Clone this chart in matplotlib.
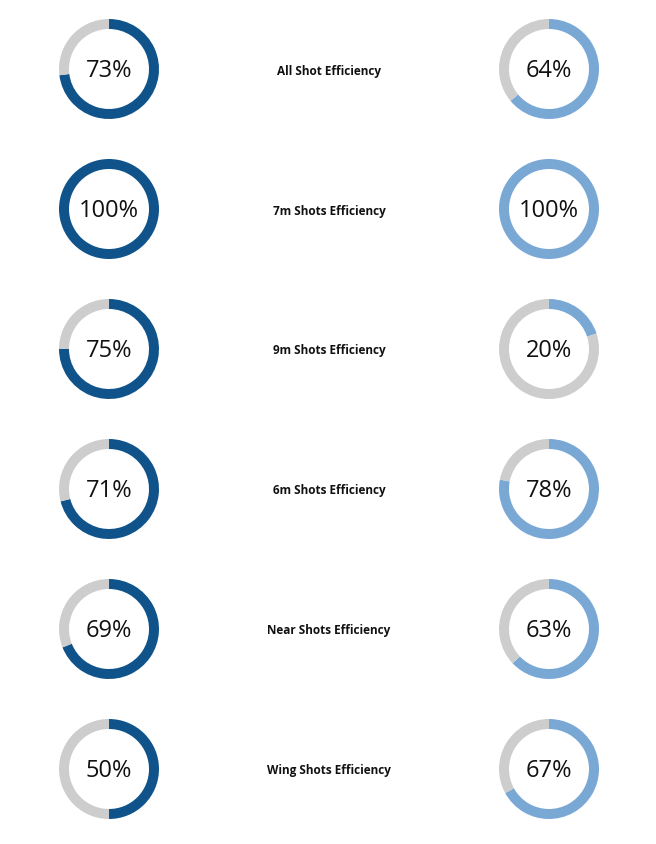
import matplotlib.pyplot as plt

labels = ['All Shot Efficiency', '7m Shots Efficiency', '9m Shots Efficiency',
          '6m Shots Efficiency', 'Near Shots Efficiency', 'Wing Shots Efficiency']
left_vals = [73, 100, 75, 71, 69, 50]
right_vals = [64, 100, 20, 78, 63, 67]

W, H = 656, 845
dark = '#10538a'
light = '#79a8d5'
grey = '#cdcdcd'

fig = plt.figure(figsize=(W / 100, H / 100), dpi=100)
ax = fig.add_axes([0, 0, 1, 1])
ax.set_xlim(0, W)
ax.set_ylim(0, H)
ax.set_aspect('equal')
ax.axis('off')

font = ['Open Sans', 'DejaVu Sans']

def donut(x, y, v, color):
	ax.pie([v, 100 - v], colors=[color, grey], startangle=90, counterclock=False,
		center=(x, y), radius=50, wedgeprops=dict(width=10, linewidth=0),
		frame=True)
	ax.text(x, y - 1, '%d%%' % v, ha='center', va='center', fontsize=17,
		family=font, color='#111111')

for i in range(len(labels)):
	y = H - (70 + 140 * i)
	donut(109, y, left_vals[i], dark)
	donut(549, y, right_vals[i], light)
	ax.text(329, y - 1, labels[i], ha='center', va='center', fontsize=8.5,
		fontweight='bold', family=font, color='#111111')

ax.set_xlim(0, W)
ax.set_ylim(0, H)
ax.axis('off')
fig.savefig('out.png', dpi=100, facecolor='white')
